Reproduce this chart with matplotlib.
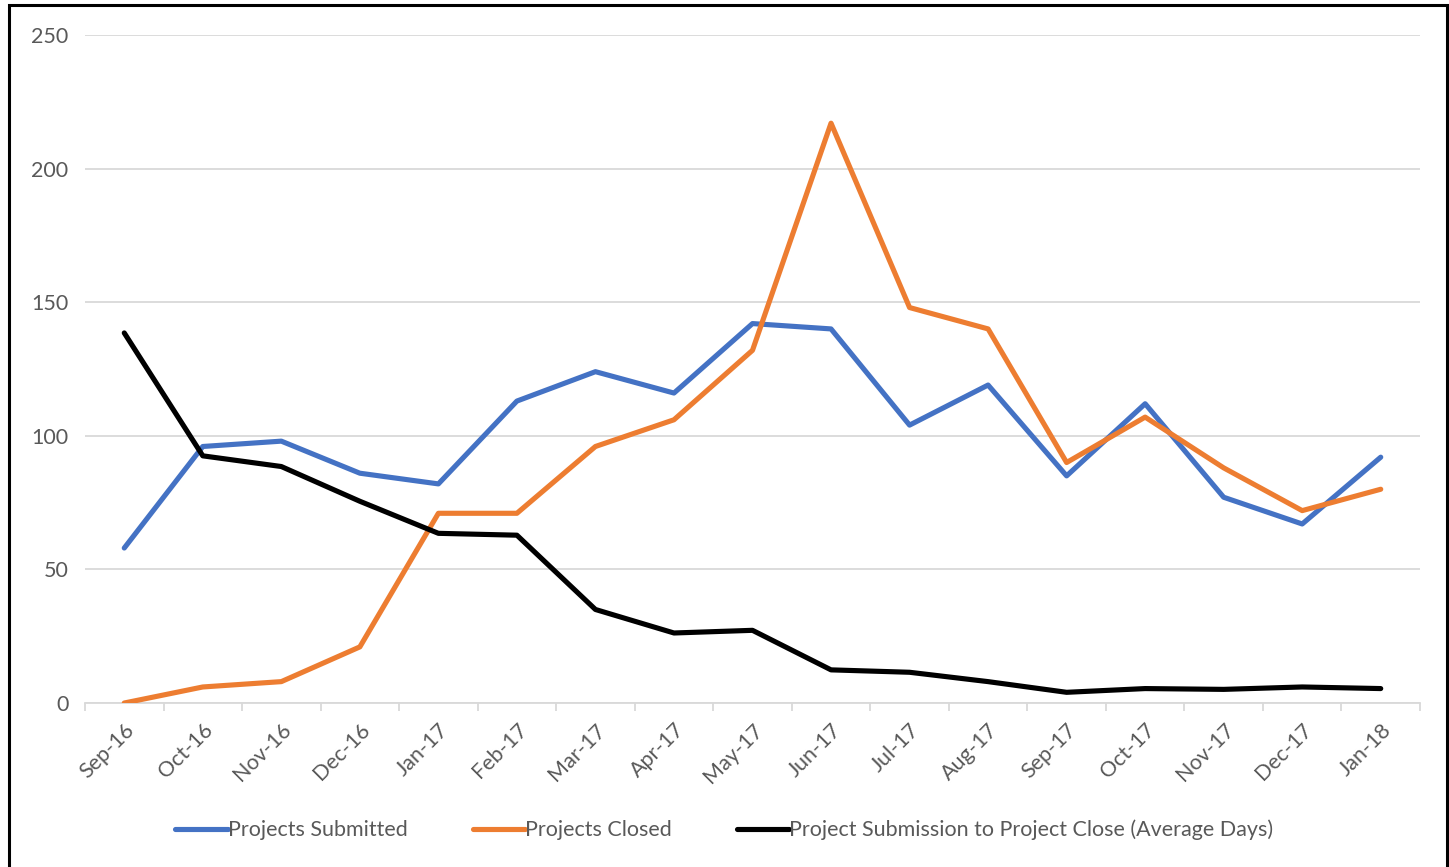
import matplotlib
matplotlib.use("Agg")
import matplotlib.pyplot as plt
from matplotlib.patches import Rectangle
import numpy as np

months = ["Sep-16", "Oct-16", "Nov-16", "Dec-16", "Jan-17", "Feb-17", "Mar-17",
          "Apr-17", "May-17", "Jun-17", "Jul-17", "Aug-17", "Sep-17", "Oct-17",
          "Nov-17", "Dec-17", "Jan-18"]
submitted = [58, 96, 98, 86, 82, 113, 124, 116, 142, 140, 104, 119, 85, 112, 77, 67, 92]
closed = [0, 6, 8, 21, 71, 71, 96, 106, 132, 217, 148, 140, 90, 107, 88, 72, 80]
avg_days = [138.5, 92.5, 88.5, 75.5, 63.5, 62.8, 35, 26.2, 27.2, 12.4, 11.5, 8, 4, 5.4, 5.1, 6, 5.4]
y_ticks = [0, 50, 100, 150, 200, 250]

plt.rcParams['font.family'] = ['Lato', 'DejaVu Sans']
text_color = '#595959'

fig = plt.figure(figsize=(14.49, 8.67), dpi=100)
ax = fig.add_axes([85/1449, 1-703/867, (1420-85)/1449, (703-35)/867])

x = np.arange(len(months))
lw = 3.7
ax.plot(x, submitted, color='#4472C4', lw=lw, solid_capstyle='round', solid_joinstyle='round', label='Projects Submitted', zorder=3)
ax.plot(x, closed, color='#ED7D31', lw=lw, solid_capstyle='round', solid_joinstyle='round', label='Projects Closed', zorder=3)
ax.plot(x, avg_days, color='#000000', lw=lw, solid_capstyle='round', solid_joinstyle='round', label='Project Submission to Project Close (Average Days)', zorder=3)

ax.set_xlim(-0.5, len(months) - 0.5)
ax.set_ylim(0, 250)
ax.set_yticks(y_ticks)
ax.set_yticklabels([str(v) for v in y_ticks])
ax.grid(axis='y', color='#D9D9D9', lw=1.3)
ax.set_axisbelow(True)

for s in ['top', 'right', 'left']:
    ax.spines[s].set_visible(False)
ax.spines['bottom'].set_color('#D9D9D9')
ax.spines['bottom'].set_linewidth(1.3)

ax.set_xticks(x)
ax.set_xticklabels(months, rotation=45, ha='right', rotation_mode='anchor')
ax.set_xticks(np.arange(-0.5, len(months), 1.0), minor=True)
ax.tick_params(axis='x', which='major', length=0, pad=12, labelsize=15.5, labelcolor=text_color)
ax.tick_params(axis='x', which='minor', length=6, width=1.3, color='#D9D9D9')
ax.tick_params(axis='y', length=0, pad=12, labelsize=15.5, labelcolor=text_color)

leg = fig.legend(loc='center', bbox_to_anchor=(0.5, 1-830/867), ncol=3, frameon=False,
                 fontsize=15.5, handlelength=2.45, handletextpad=0.0, columnspacing=3.0)
for t in leg.get_texts():
    t.set_color(text_color)

fig.patches.append(Rectangle((8.5/1449, -0.05), (1446.5-8.5)/1449, 1.05 - 5.5/867,
                             transform=fig.transFigure, fill=False, edgecolor='black',
                             lw=2.2, clip_on=False))

fig.savefig('out.png', dpi=100)
